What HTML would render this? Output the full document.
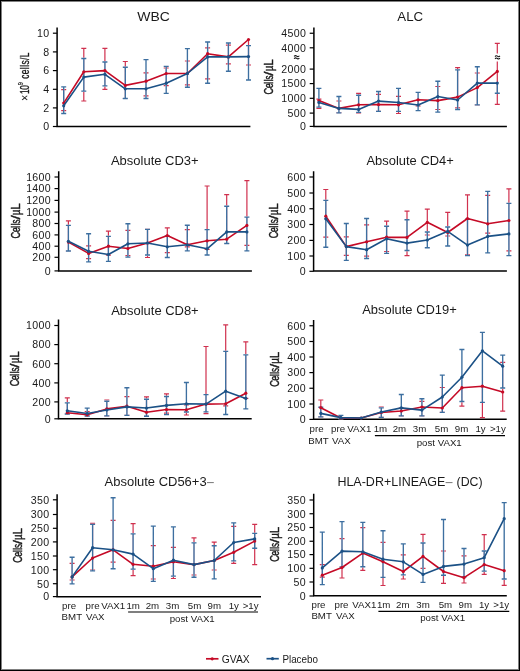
<!DOCTYPE html>
<html><head><meta charset="utf-8"><title>Immune reconstitution</title>
<style>
html,body{margin:0;padding:0;background:#fff;}
.fig{position:relative;width:520px;height:671px;overflow:hidden;background:#fff;}
svg{position:absolute;left:0;top:0;display:block;will-change:transform;}
text{font-family:"Liberation Sans", sans-serif;fill:#1a1a1a;}
</style></head>
<body><div class="fig">
<svg width="520" height="671" viewBox="0 0 520 671">
<path d="M57.1 27.5V126.5H250.4" fill="none" stroke="#000" stroke-width="1.5"/>
<path d="M52.9 33.2H57.1" stroke="#000" stroke-width="1.2"/>
<text x="49.5" y="37" font-size="10.6" text-anchor="end" letter-spacing="0.35">10</text>
<path d="M52.9 51.9H57.1" stroke="#000" stroke-width="1.2"/>
<text x="49.5" y="55.7" font-size="10.6" text-anchor="end" letter-spacing="0.35">8</text>
<path d="M52.9 70.6H57.1" stroke="#000" stroke-width="1.2"/>
<text x="49.5" y="74.4" font-size="10.6" text-anchor="end" letter-spacing="0.35">6</text>
<path d="M52.9 89.3H57.1" stroke="#000" stroke-width="1.2"/>
<text x="49.5" y="93.1" font-size="10.6" text-anchor="end" letter-spacing="0.35">4</text>
<path d="M52.9 107.9H57.1" stroke="#000" stroke-width="1.2"/>
<text x="49.5" y="111.7" font-size="10.6" text-anchor="end" letter-spacing="0.35">2</text>
<path d="M52.9 126.5H57.1" stroke="#000" stroke-width="1.2"/>
<text x="49.5" y="130.3" font-size="10.6" text-anchor="end" letter-spacing="0.35">0</text>
<text x="137.3" y="20.6" font-size="12.4" textLength="32.6" lengthAdjust="spacingAndGlyphs">WBC</text>
<path d="M63.7 89.6V110.6M61.2 89.6H66.2M61.2 110.6H66.2M83.8 48.4V101M81.3 48.4H86.3M81.3 101H86.3M104.9 48.4V89.4M102.4 48.4H107.4M102.4 89.4H107.4M125.3 61.5V98.5M122.8 61.5H127.8M122.8 98.5H127.8M146 72.8V95.9M143.5 72.8H148.5M143.5 95.9H148.5M166.2 68V85.6M163.7 68H168.7M163.7 85.6H168.7M187.4 61V84.8M184.9 61H189.9M184.9 84.8H189.9M207.6 47.8V78.9M205.1 47.8H210.1M205.1 78.9H210.1M228.4 45.2V63.8M225.9 45.2H230.9M225.9 63.8H230.9M248.5 39.2V65M246 65H251" fill="none" stroke="#d0304e" stroke-width="1.2"/>
<path d="M63.7 86.9V113.5M61.2 86.9H66.2M61.2 113.5H66.2M83.8 58.5V91.1M81.3 58.5H86.3M81.3 91.1H86.3M104.9 62V85.8M102.4 62H107.4M102.4 85.8H107.4M125.3 67.2V98.5M122.8 67.2H127.8M122.8 98.5H127.8M146 59.6V98.5M143.5 59.6H148.5M143.5 98.5H148.5M166.2 66.4V93.3M163.7 66.4H168.7M163.7 93.3H168.7M187.4 48.6V87.2M184.9 48.6H189.9M184.9 87.2H189.9M207.6 42V83.2M205.1 42H210.1M205.1 83.2H210.1M228.4 43V71.2M225.9 43H230.9M225.9 71.2H230.9M248.5 45.6V80M246 45.6H251M246 80H251" fill="none" stroke="#fff" stroke-width="1.35"/>
<path d="M63.7 86.9V113.5M61.2 86.9H66.2M61.2 113.5H66.2M83.8 58.5V91.1M81.3 58.5H86.3M81.3 91.1H86.3M104.9 62V85.8M102.4 62H107.4M102.4 85.8H107.4M125.3 67.2V98.5M122.8 67.2H127.8M122.8 98.5H127.8M146 59.6V98.5M143.5 59.6H148.5M143.5 98.5H148.5M166.2 66.4V93.3M163.7 66.4H168.7M163.7 93.3H168.7M187.4 48.6V87.2M184.9 48.6H189.9M184.9 87.2H189.9M207.6 42V83.2M205.1 42H210.1M205.1 83.2H210.1M228.4 43V71.2M225.9 43H230.9M225.9 71.2H230.9M248.5 45.6V80M246 45.6H251M246 80H251" fill="none" stroke="#3d6fa0" stroke-width="1.35"/>
<polyline points="63.7,103.1 83.8,71.8 104.9,70.6 125.3,85.4 146,81.2 166.2,73.5 187.4,73.5 207.6,53.7 228.4,56.9 248.5,39.5" fill="none" stroke="#c50a26" stroke-width="1.6" stroke-linejoin="round"/>
<circle cx="63.7" cy="103.1" r="1.6" fill="#c50a26"/>
<circle cx="83.8" cy="71.8" r="1.6" fill="#c50a26"/>
<circle cx="104.9" cy="70.6" r="1.6" fill="#c50a26"/>
<circle cx="125.3" cy="85.4" r="1.6" fill="#c50a26"/>
<circle cx="146" cy="81.2" r="1.6" fill="#c50a26"/>
<circle cx="166.2" cy="73.5" r="1.6" fill="#c50a26"/>
<circle cx="187.4" cy="73.5" r="1.6" fill="#c50a26"/>
<circle cx="207.6" cy="53.7" r="1.6" fill="#c50a26"/>
<circle cx="228.4" cy="56.9" r="1.6" fill="#c50a26"/>
<circle cx="248.5" cy="39.5" r="1.6" fill="#c50a26"/>
<polyline points="63.7,105.8 83.8,77.1 104.9,74.3 125.3,88.8 146,88.8 166.2,83.2 187.4,73.5 207.6,56.9 228.4,56.9 248.5,56.6" fill="none" stroke="#1b5186" stroke-width="1.6" stroke-linejoin="round"/>
<circle cx="63.7" cy="105.8" r="1.6" fill="#1b5186"/>
<circle cx="83.8" cy="77.1" r="1.6" fill="#1b5186"/>
<circle cx="104.9" cy="74.3" r="1.6" fill="#1b5186"/>
<circle cx="125.3" cy="88.8" r="1.6" fill="#1b5186"/>
<circle cx="146" cy="88.8" r="1.6" fill="#1b5186"/>
<circle cx="166.2" cy="83.2" r="1.6" fill="#1b5186"/>
<circle cx="187.4" cy="73.5" r="1.6" fill="#1b5186"/>
<circle cx="207.6" cy="56.9" r="1.6" fill="#1b5186"/>
<circle cx="228.4" cy="56.9" r="1.6" fill="#1b5186"/>
<circle cx="248.5" cy="56.6" r="1.6" fill="#1b5186"/>
<g transform="translate(29.3,101) rotate(-90)" stroke="#1a1a1a" stroke-width="0.35"><text x="0" y="0" font-size="12.3" textLength="6.3" lengthAdjust="spacingAndGlyphs" stroke-width="0">×</text><g transform="translate(6.9,0) scale(0.68,1)"><text font-size="12.3" textLength="13.4" lengthAdjust="spacing">10</text></g><g transform="translate(15.7,-5.9) scale(0.75,1)"><text font-size="7.6" stroke-width="0.2">9</text></g><g transform="translate(22.2,0) scale(0.68,1)"><text font-size="12.3" textLength="38.6" lengthAdjust="spacing">cells/L</text></g></g>
<path d="M313.9 27.5V126.4H506.9" fill="none" stroke="#000" stroke-width="1.5"/>
<path d="M309.7 33.25H313.9" stroke="#000" stroke-width="1.2"/>
<text x="306.3" y="37.05" font-size="10.6" text-anchor="end" letter-spacing="0.35">4500</text>
<path d="M309.7 47.8H313.9" stroke="#000" stroke-width="1.2"/>
<text x="306.3" y="51.6" font-size="10.6" text-anchor="end" letter-spacing="0.35">4000</text>
<path d="M309.7 69.1H313.9" stroke="#000" stroke-width="1.2"/>
<text x="306.3" y="72.9" font-size="10.6" text-anchor="end" letter-spacing="0.35">2000</text>
<path d="M309.7 83.6H313.9" stroke="#000" stroke-width="1.2"/>
<text x="306.3" y="87.4" font-size="10.6" text-anchor="end" letter-spacing="0.35">1500</text>
<path d="M309.7 98.3H313.9" stroke="#000" stroke-width="1.2"/>
<text x="306.3" y="102.1" font-size="10.6" text-anchor="end" letter-spacing="0.35">1000</text>
<path d="M309.7 113.1H313.9" stroke="#000" stroke-width="1.2"/>
<text x="306.3" y="116.9" font-size="10.6" text-anchor="end" letter-spacing="0.35">500</text>
<path d="M309.7 126.4H313.9" stroke="#000" stroke-width="1.2"/>
<text x="306.3" y="130.2" font-size="10.6" text-anchor="end" letter-spacing="0.35">0</text>
<text x="397.3" y="20.7" font-size="12.4" textLength="25.8" lengthAdjust="spacingAndGlyphs">ALC</text>
<path d="M318.9 99.2V108.4M316.4 99.2H321.4M316.4 108.4H321.4M338.9 101V112.7M336.4 101H341.4M336.4 112.7H341.4M358.6 93.3V112.9M356.1 93.3H361.1M356.1 112.9H361.1M378.5 94.4V111.4M376 94.4H381M376 111.4H381M398.5 96.4V113.5M396 96.4H401M396 113.5H401M418.1 99.8V106M415.6 106H420.6M437.8 86.5V109.5M435.3 86.5H440.3M435.3 109.5H440.3M457.6 67.7V107.8M455.1 67.7H460.1M455.1 107.8H460.1M477.3 73V104.9M474.8 73H479.8M474.8 104.9H479.8M497.3 43.4V104.4M494.8 43.4H499.8M494.8 104.4H499.8" fill="none" stroke="#d0304e" stroke-width="1.2"/>
<path d="M318.9 88.3V107.1M316.4 88.3H321.4M316.4 107.1H321.4M338.9 96.5V112.8M336.4 96.5H341.4M336.4 112.8H341.4M358.6 95.2V112.3M356.1 95.2H361.1M356.1 112.3H361.1M378.5 91.5V111.4M376 91.5H381M376 111.4H381M398.5 88.3V111.4M396 88.3H401M396 111.4H401M418.1 92.3V110.6M415.6 92.3H420.6M415.6 110.6H420.6M437.8 81.2V112.1M435.3 81.2H440.3M435.3 112.1H440.3M457.6 69.8V109.5M455.1 69.8H460.1M455.1 109.5H460.1M477.3 66.7V104.9M474.8 66.7H479.8M474.8 104.9H479.8M497.3 83.1V93.2M494.8 93.2H499.8" fill="none" stroke="#fff" stroke-width="1.35"/>
<path d="M318.9 88.3V107.1M316.4 88.3H321.4M316.4 107.1H321.4M338.9 96.5V112.8M336.4 96.5H341.4M336.4 112.8H341.4M358.6 95.2V112.3M356.1 95.2H361.1M356.1 112.3H361.1M378.5 91.5V111.4M376 91.5H381M376 111.4H381M398.5 88.3V111.4M396 88.3H401M396 111.4H401M418.1 92.3V110.6M415.6 92.3H420.6M415.6 110.6H420.6M437.8 81.2V112.1M435.3 81.2H440.3M435.3 112.1H440.3M457.6 69.8V109.5M455.1 69.8H460.1M455.1 109.5H460.1M477.3 66.7V104.9M474.8 66.7H479.8M474.8 104.9H479.8M497.3 83.1V93.2M494.8 93.2H499.8" fill="none" stroke="#3d6fa0" stroke-width="1.35"/>
<polyline points="318.9,100.6 338.9,108.4 358.6,104.8 378.5,104.6 398.5,104.8 418.1,99.8 437.8,100.6 457.6,97.1 477.3,87.6 497.3,71.4" fill="none" stroke="#c50a26" stroke-width="1.6" stroke-linejoin="round"/>
<circle cx="318.9" cy="100.6" r="1.6" fill="#c50a26"/>
<circle cx="338.9" cy="108.4" r="1.6" fill="#c50a26"/>
<circle cx="358.6" cy="104.8" r="1.6" fill="#c50a26"/>
<circle cx="378.5" cy="104.6" r="1.6" fill="#c50a26"/>
<circle cx="398.5" cy="104.8" r="1.6" fill="#c50a26"/>
<circle cx="418.1" cy="99.8" r="1.6" fill="#c50a26"/>
<circle cx="437.8" cy="100.6" r="1.6" fill="#c50a26"/>
<circle cx="457.6" cy="97.1" r="1.6" fill="#c50a26"/>
<circle cx="477.3" cy="87.6" r="1.6" fill="#c50a26"/>
<circle cx="497.3" cy="71.4" r="1.6" fill="#c50a26"/>
<polyline points="318.9,102.4 338.9,108.4 358.6,109.4 378.5,101.1 398.5,102.5 418.1,105 437.8,96.5 457.6,100 477.3,83.1 497.3,83.1" fill="none" stroke="#1b5186" stroke-width="1.6" stroke-linejoin="round"/>
<circle cx="318.9" cy="102.4" r="1.6" fill="#1b5186"/>
<circle cx="338.9" cy="108.4" r="1.6" fill="#1b5186"/>
<circle cx="358.6" cy="109.4" r="1.6" fill="#1b5186"/>
<circle cx="378.5" cy="101.1" r="1.6" fill="#1b5186"/>
<circle cx="398.5" cy="102.5" r="1.6" fill="#1b5186"/>
<circle cx="418.1" cy="105" r="1.6" fill="#1b5186"/>
<circle cx="437.8" cy="96.5" r="1.6" fill="#1b5186"/>
<circle cx="457.6" cy="100" r="1.6" fill="#1b5186"/>
<circle cx="477.3" cy="83.1" r="1.6" fill="#1b5186"/>
<circle cx="497.3" cy="83.1" r="1.6" fill="#1b5186"/>
<path d="M294.05 56.45Q295.38 55 296.7 56.1T299.35 55.75M294.05 58.75Q295.38 57.3 296.7 58.4T299.35 58.05" fill="none" stroke="#111" stroke-width="1.05"/>
<rect x="494.1" y="53.5" width="6.4" height="8" fill="#fff"/>
<path d="M495.05 56.55Q496.28 55.1 497.5 56.2T499.95 55.85M495.05 58.85Q496.28 57.4 497.5 58.5T499.95 58.15" fill="none" stroke="#111" stroke-width="1.05"/>
<g transform="translate(272.7,93.9) rotate(-90)" stroke="#1a1a1a" stroke-width="0.45" font-size="13.4"><text transform="translate(2.85,0) scale(0.69,1)" text-anchor="middle">C</text><text transform="translate(8.1,0) scale(0.62,1)" text-anchor="middle">e</text><text transform="translate(11.1,0) scale(0.75,1)" text-anchor="middle">l</text><text transform="translate(13.4,0) scale(0.75,1)" text-anchor="middle">l</text><text transform="translate(16.4,0) scale(0.6,1)" text-anchor="middle">s</text><text transform="translate(20.4,0) scale(1.15,1)" text-anchor="middle">/</text><text transform="translate(25.4,0) scale(0.72,1)" text-anchor="middle">µ</text><text transform="translate(31.3,0) scale(0.85,1)" text-anchor="middle">L</text></g>
<path d="M58.7 171.25V270.9H251.9" fill="none" stroke="#000" stroke-width="1.5"/>
<path d="M54.5 177H58.7" stroke="#000" stroke-width="1.2"/>
<text x="51.1" y="180.8" font-size="10.6" text-anchor="end" letter-spacing="0.35">1600</text>
<path d="M54.5 188.6H58.7" stroke="#000" stroke-width="1.2"/>
<text x="51.1" y="192.4" font-size="10.6" text-anchor="end" letter-spacing="0.35">1400</text>
<path d="M54.5 200.4H58.7" stroke="#000" stroke-width="1.2"/>
<text x="51.1" y="204.2" font-size="10.6" text-anchor="end" letter-spacing="0.35">1200</text>
<path d="M54.5 212.1H58.7" stroke="#000" stroke-width="1.2"/>
<text x="51.1" y="215.9" font-size="10.6" text-anchor="end" letter-spacing="0.35">1000</text>
<path d="M54.5 223.5H58.7" stroke="#000" stroke-width="1.2"/>
<text x="51.1" y="227.3" font-size="10.6" text-anchor="end" letter-spacing="0.35">800</text>
<path d="M54.5 234.9H58.7" stroke="#000" stroke-width="1.2"/>
<text x="51.1" y="238.7" font-size="10.6" text-anchor="end" letter-spacing="0.35">600</text>
<path d="M54.5 246.2H58.7" stroke="#000" stroke-width="1.2"/>
<text x="51.1" y="250" font-size="10.6" text-anchor="end" letter-spacing="0.35">400</text>
<path d="M54.5 257.3H58.7" stroke="#000" stroke-width="1.2"/>
<text x="51.1" y="261.1" font-size="10.6" text-anchor="end" letter-spacing="0.35">200</text>
<path d="M54.5 270.9H58.7" stroke="#000" stroke-width="1.2"/>
<text x="51.1" y="274.7" font-size="10.6" text-anchor="end" letter-spacing="0.35">0</text>
<text x="110.9" y="164.9" font-size="12.4" textLength="87.8" lengthAdjust="spacingAndGlyphs">Absolute CD3+</text>
<path d="M68.4 220.8V251M65.9 220.8H70.9M65.9 251H70.9M88.6 245.9V258.6M86.1 245.9H91.1M86.1 258.6H91.1M108.4 231.2V255.2M105.9 231.2H110.9M105.9 255.2H110.9M127.9 230.3V255.6M125.4 230.3H130.4M125.4 255.6H130.4M147.5 229.4V257.5M145 229.4H150M145 257.5H150M167.3 227.9V252.6M164.8 227.9H169.8M164.8 252.6H169.8M187.3 229.6V246.8M184.8 229.6H189.8M184.8 246.8H189.8M207.1 186V249.4M204.6 186H209.6M204.6 249.4H209.6M226.7 194.6V243.5M224.2 194.6H229.2M224.2 243.5H229.2M246.9 180.6V245.4M244.4 180.6H249.4M244.4 245.4H249.4" fill="none" stroke="#d0304e" stroke-width="1.2"/>
<path d="M68.4 225.4V251M65.9 225.4H70.9M65.9 251H70.9M88.6 233.7V261.8M86.1 233.7H91.1M86.1 261.8H91.1M108.4 236.3V261.4M105.9 236.3H110.9M105.9 261.4H110.9M127.9 223.7V257.1M125.4 223.7H130.4M125.4 257.1H130.4M147.5 229.4V255M145 229.4H150M145 255H150M167.3 236V257.5M164.8 236H169.8M164.8 257.5H169.8M187.3 225.2V250.8M184.8 225.2H189.8M184.8 250.8H189.8M207.1 229.6V255M204.6 229.6H209.6M204.6 255H209.6M226.7 206.2V243.5M224.2 206.2H229.2M224.2 243.5H229.2M246.9 217.1V250.8M244.4 217.1H249.4M244.4 250.8H249.4" fill="none" stroke="#fff" stroke-width="1.35"/>
<path d="M68.4 225.4V251M65.9 225.4H70.9M65.9 251H70.9M88.6 233.7V261.8M86.1 233.7H91.1M86.1 261.8H91.1M108.4 236.3V261.4M105.9 236.3H110.9M105.9 261.4H110.9M127.9 223.7V257.1M125.4 223.7H130.4M125.4 257.1H130.4M147.5 229.4V255M145 229.4H150M145 255H150M167.3 236V257.5M164.8 236H169.8M164.8 257.5H169.8M187.3 225.2V250.8M184.8 225.2H189.8M184.8 250.8H189.8M207.1 229.6V255M204.6 229.6H209.6M204.6 255H209.6M226.7 206.2V243.5M224.2 206.2H229.2M224.2 243.5H229.2M246.9 217.1V250.8M244.4 217.1H249.4M244.4 250.8H249.4" fill="none" stroke="#3d6fa0" stroke-width="1.35"/>
<polyline points="68.4,242.1 88.6,253.4 108.4,246.2 127.9,248.5 147.5,243 167.3,235.6 187.3,244.8 207.1,240.8 226.7,239.2 246.9,225.4" fill="none" stroke="#c50a26" stroke-width="1.6" stroke-linejoin="round"/>
<circle cx="68.4" cy="242.1" r="1.6" fill="#c50a26"/>
<circle cx="88.6" cy="253.4" r="1.6" fill="#c50a26"/>
<circle cx="108.4" cy="246.2" r="1.6" fill="#c50a26"/>
<circle cx="127.9" cy="248.5" r="1.6" fill="#c50a26"/>
<circle cx="147.5" cy="243" r="1.6" fill="#c50a26"/>
<circle cx="167.3" cy="235.6" r="1.6" fill="#c50a26"/>
<circle cx="187.3" cy="244.8" r="1.6" fill="#c50a26"/>
<circle cx="207.1" cy="240.8" r="1.6" fill="#c50a26"/>
<circle cx="226.7" cy="239.2" r="1.6" fill="#c50a26"/>
<circle cx="246.9" cy="225.4" r="1.6" fill="#c50a26"/>
<polyline points="68.4,241.3 88.6,251.3 108.4,254.5 127.9,243.8 147.5,243 167.3,246.8 187.3,244.8 207.1,248.8 226.7,231.9 246.9,231.9" fill="none" stroke="#1b5186" stroke-width="1.6" stroke-linejoin="round"/>
<circle cx="68.4" cy="241.3" r="1.6" fill="#1b5186"/>
<circle cx="88.6" cy="251.3" r="1.6" fill="#1b5186"/>
<circle cx="108.4" cy="254.5" r="1.6" fill="#1b5186"/>
<circle cx="127.9" cy="243.8" r="1.6" fill="#1b5186"/>
<circle cx="147.5" cy="243" r="1.6" fill="#1b5186"/>
<circle cx="167.3" cy="246.8" r="1.6" fill="#1b5186"/>
<circle cx="187.3" cy="244.8" r="1.6" fill="#1b5186"/>
<circle cx="207.1" cy="248.8" r="1.6" fill="#1b5186"/>
<circle cx="226.7" cy="231.9" r="1.6" fill="#1b5186"/>
<circle cx="246.9" cy="231.9" r="1.6" fill="#1b5186"/>
<g transform="translate(19.5,237.9) rotate(-90)" stroke="#1a1a1a" stroke-width="0.45" font-size="13.4"><text transform="translate(2.86,0) scale(0.69,1)" text-anchor="middle">C</text><text transform="translate(8.12,0) scale(0.62,1)" text-anchor="middle">e</text><text transform="translate(11.13,0) scale(0.75,1)" text-anchor="middle">l</text><text transform="translate(13.44,0) scale(0.75,1)" text-anchor="middle">l</text><text transform="translate(16.45,0) scale(0.6,1)" text-anchor="middle">s</text><text transform="translate(20.46,0) scale(1.15,1)" text-anchor="middle">/</text><text transform="translate(25.47,0) scale(0.72,1)" text-anchor="middle">µ</text><text transform="translate(31.39,0) scale(0.85,1)" text-anchor="middle">L</text></g>
<path d="M313.6 171.25V271.1H506.9" fill="none" stroke="#000" stroke-width="1.5"/>
<path d="M309.4 177H313.6" stroke="#000" stroke-width="1.2"/>
<text x="306" y="180.8" font-size="10.6" text-anchor="end" letter-spacing="0.35">600</text>
<path d="M309.4 193H313.6" stroke="#000" stroke-width="1.2"/>
<text x="306" y="196.8" font-size="10.6" text-anchor="end" letter-spacing="0.35">500</text>
<path d="M309.4 208.75H313.6" stroke="#000" stroke-width="1.2"/>
<text x="306" y="212.55" font-size="10.6" text-anchor="end" letter-spacing="0.35">400</text>
<path d="M309.4 224.5H313.6" stroke="#000" stroke-width="1.2"/>
<text x="306" y="228.3" font-size="10.6" text-anchor="end" letter-spacing="0.35">300</text>
<path d="M309.4 240.4H313.6" stroke="#000" stroke-width="1.2"/>
<text x="306" y="244.2" font-size="10.6" text-anchor="end" letter-spacing="0.35">200</text>
<path d="M309.4 256H313.6" stroke="#000" stroke-width="1.2"/>
<text x="306" y="259.8" font-size="10.6" text-anchor="end" letter-spacing="0.35">100</text>
<path d="M309.4 271.3H313.6" stroke="#000" stroke-width="1.2"/>
<text x="306" y="275.1" font-size="10.6" text-anchor="end" letter-spacing="0.35">0</text>
<text x="366.5" y="165.3" font-size="12.4" textLength="87.3" lengthAdjust="spacingAndGlyphs">Absolute CD4+</text>
<path d="M325.8 189.5V237.2M323.3 189.5H328.3M323.3 237.2H328.3M346.3 236.9V255.4M343.8 236.9H348.8M343.8 255.4H348.8M366.6 224.9V256.2M364.1 224.9H369.1M364.1 256.2H369.1M386.6 221.2V251.5M384.1 221.2H389.1M384.1 251.5H389.1M407 211.2V255.7M404.5 211.2H409.5M404.5 255.7H409.5M427.3 209.2V235M424.8 209.2H429.8M424.8 235H429.8M447.7 212.3V236M445.2 212.3H450.2M445.2 236H450.2M467.5 194.9V254.9M465 194.9H470M465 254.9H470M487.7 195.4V233.1M485.2 195.4H490.2M485.2 233.1H490.2M508.9 188.9V250.8M506.4 188.9H511.4M506.4 250.8H511.4" fill="none" stroke="#d0304e" stroke-width="1.2"/>
<path d="M325.8 200.3V247.2M323.3 200.3H328.3M323.3 247.2H328.3M346.3 223.5V260.3M343.8 223.5H348.8M343.8 260.3H348.8M366.6 218.5V258.5M364.1 218.5H369.1M364.1 258.5H369.1M386.6 226.2V253.4M384.1 226.2H389.1M384.1 253.4H389.1M407 219.7V250.5M404.5 219.7H409.5M404.5 250.5H409.5M427.3 232V247.7M424.8 232H429.8M424.8 247.7H429.8M447.7 227V246M445.2 227H450.2M445.2 246H450.2M467.5 219.2V255.6M465 219.2H470M465 255.6H470M487.7 191.3V252.8M485.2 191.3H490.2M485.2 252.8H490.2M508.9 203.3V255.6M506.4 203.3H511.4M506.4 255.6H511.4" fill="none" stroke="#fff" stroke-width="1.35"/>
<path d="M325.8 200.3V247.2M323.3 200.3H328.3M323.3 247.2H328.3M346.3 223.5V260.3M343.8 223.5H348.8M343.8 260.3H348.8M366.6 218.5V258.5M364.1 218.5H369.1M364.1 258.5H369.1M386.6 226.2V253.4M384.1 226.2H389.1M384.1 253.4H389.1M407 219.7V250.5M404.5 219.7H409.5M404.5 250.5H409.5M427.3 232V247.7M424.8 232H429.8M424.8 247.7H429.8M447.7 227V246M445.2 227H450.2M445.2 246H450.2M467.5 219.2V255.6M465 219.2H470M465 255.6H470M487.7 191.3V252.8M485.2 191.3H490.2M485.2 252.8H490.2M508.9 203.3V255.6M506.4 203.3H511.4M506.4 255.6H511.4" fill="none" stroke="#3d6fa0" stroke-width="1.35"/>
<polyline points="325.8,216.2 346.3,246.6 366.6,241.8 386.6,237.2 407,237.4 427.3,222.3 447.7,232.5 467.5,218.5 487.7,223.8 508.9,220.5" fill="none" stroke="#c50a26" stroke-width="1.6" stroke-linejoin="round"/>
<circle cx="325.8" cy="216.2" r="1.6" fill="#c50a26"/>
<circle cx="346.3" cy="246.6" r="1.6" fill="#c50a26"/>
<circle cx="366.6" cy="241.8" r="1.6" fill="#c50a26"/>
<circle cx="386.6" cy="237.2" r="1.6" fill="#c50a26"/>
<circle cx="407" cy="237.4" r="1.6" fill="#c50a26"/>
<circle cx="427.3" cy="222.3" r="1.6" fill="#c50a26"/>
<circle cx="447.7" cy="232.5" r="1.6" fill="#c50a26"/>
<circle cx="467.5" cy="218.5" r="1.6" fill="#c50a26"/>
<circle cx="487.7" cy="223.8" r="1.6" fill="#c50a26"/>
<circle cx="508.9" cy="220.5" r="1.6" fill="#c50a26"/>
<polyline points="325.8,218.8 346.3,246.6 366.6,249.7 386.6,238.8 407,243.1 427.3,240 447.7,231.3 467.5,245.1 487.7,236.4 508.9,233.9" fill="none" stroke="#1b5186" stroke-width="1.6" stroke-linejoin="round"/>
<circle cx="325.8" cy="218.8" r="1.6" fill="#1b5186"/>
<circle cx="346.3" cy="246.6" r="1.6" fill="#1b5186"/>
<circle cx="366.6" cy="249.7" r="1.6" fill="#1b5186"/>
<circle cx="386.6" cy="238.8" r="1.6" fill="#1b5186"/>
<circle cx="407" cy="243.1" r="1.6" fill="#1b5186"/>
<circle cx="427.3" cy="240" r="1.6" fill="#1b5186"/>
<circle cx="447.7" cy="231.3" r="1.6" fill="#1b5186"/>
<circle cx="467.5" cy="245.1" r="1.6" fill="#1b5186"/>
<circle cx="487.7" cy="236.4" r="1.6" fill="#1b5186"/>
<circle cx="508.9" cy="233.9" r="1.6" fill="#1b5186"/>
<g transform="translate(278.15,237.7) rotate(-90)" stroke="#1a1a1a" stroke-width="0.45" font-size="13.4"><text transform="translate(2.84,0) scale(0.69,1)" text-anchor="middle">C</text><text transform="translate(8.08,0) scale(0.62,1)" text-anchor="middle">e</text><text transform="translate(11.07,0) scale(0.75,1)" text-anchor="middle">l</text><text transform="translate(13.36,0) scale(0.75,1)" text-anchor="middle">l</text><text transform="translate(16.35,0) scale(0.6,1)" text-anchor="middle">s</text><text transform="translate(20.34,0) scale(1.15,1)" text-anchor="middle">/</text><text transform="translate(25.33,0) scale(0.72,1)" text-anchor="middle">µ</text><text transform="translate(31.21,0) scale(0.85,1)" text-anchor="middle">L</text></g>
<path d="M58.5 319.5V418.8H251.7" fill="none" stroke="#000" stroke-width="1.5"/>
<path d="M54.3 325.5H58.5" stroke="#000" stroke-width="1.2"/>
<text x="50.9" y="329.3" font-size="10.6" text-anchor="end" letter-spacing="0.35">1000</text>
<path d="M54.3 344.6H58.5" stroke="#000" stroke-width="1.2"/>
<text x="50.9" y="348.4" font-size="10.6" text-anchor="end" letter-spacing="0.35">800</text>
<path d="M54.3 363.7H58.5" stroke="#000" stroke-width="1.2"/>
<text x="50.9" y="367.5" font-size="10.6" text-anchor="end" letter-spacing="0.35">600</text>
<path d="M54.3 382.9H58.5" stroke="#000" stroke-width="1.2"/>
<text x="50.9" y="386.7" font-size="10.6" text-anchor="end" letter-spacing="0.35">400</text>
<path d="M54.3 401.9H58.5" stroke="#000" stroke-width="1.2"/>
<text x="50.9" y="405.7" font-size="10.6" text-anchor="end" letter-spacing="0.35">200</text>
<path d="M54.3 418.8H58.5" stroke="#000" stroke-width="1.2"/>
<text x="50.9" y="422.6" font-size="10.6" text-anchor="end" letter-spacing="0.35">0</text>
<text x="111.2" y="314.8" font-size="12.4" textLength="87.5" lengthAdjust="spacingAndGlyphs">Absolute CD8+</text>
<path d="M67.3 397.8V414M64.8 397.8H69.8M64.8 414H69.8M87.2 411.7V416M84.7 411.7H89.7M84.7 416H89.7M106.8 400V415.8M104.3 400H109.3M104.3 415.8H109.3M126.9 396.6V415.4M124.4 396.6H129.4M124.4 415.4H129.4M146.5 396.9V416.2M144 396.9H149M144 416.2H149M166.5 393.8V413.1M164 393.8H169M164 413.1H169M186.4 405V415M183.9 405H188.9M183.9 415H188.9M206 346.5V413.6M203.5 346.5H208.5M203.5 413.6H208.5M225.7 324.9V405.9M223.2 324.9H228.2M223.2 405.9H228.2M245.8 341.8V398.4M243.3 341.8H248.3M243.3 398.4H248.3" fill="none" stroke="#d0304e" stroke-width="1.2"/>
<path d="M67.3 402.9V414M64.8 402.9H69.8M64.8 414H69.8M87.2 408.1V416M84.7 408.1H89.7M84.7 416H89.7M106.8 401.2V415.8M104.3 401.2H109.3M104.3 415.8H109.3M126.9 387.7V415.4M124.4 387.7H129.4M124.4 415.4H129.4M146.5 399.2V416.2M144 399.2H149M144 416.2H149M166.5 396.5V414.6M164 396.5H169M164 414.6H169M186.4 382.5V412M183.9 382.5H188.9M183.9 412H188.9M206 394.6V411.9M203.5 394.6H208.5M203.5 411.9H208.5M225.7 351.3V414.5M223.2 351.3H228.2M223.2 414.5H228.2M245.8 354.8V408.8M243.3 354.8H248.3M243.3 408.8H248.3" fill="none" stroke="#fff" stroke-width="1.35"/>
<path d="M67.3 402.9V414M64.8 402.9H69.8M64.8 414H69.8M87.2 408.1V416M84.7 408.1H89.7M84.7 416H89.7M106.8 401.2V415.8M104.3 401.2H109.3M104.3 415.8H109.3M126.9 387.7V415.4M124.4 387.7H129.4M124.4 415.4H129.4M146.5 399.2V416.2M144 399.2H149M144 416.2H149M166.5 396.5V414.6M164 396.5H169M164 414.6H169M186.4 382.5V412M183.9 382.5H188.9M183.9 412H188.9M206 394.6V411.9M203.5 394.6H208.5M203.5 411.9H208.5M225.7 351.3V414.5M223.2 351.3H228.2M223.2 414.5H228.2M245.8 354.8V408.8M243.3 354.8H248.3M243.3 408.8H248.3" fill="none" stroke="#3d6fa0" stroke-width="1.35"/>
<polyline points="67.3,412.7 87.2,414.8 106.8,408.9 126.9,406.2 146.5,412.3 166.5,409.5 186.4,409.8 206,404.1 225.7,403.8 245.8,393.2" fill="none" stroke="#c50a26" stroke-width="1.6" stroke-linejoin="round"/>
<circle cx="67.3" cy="412.7" r="1.6" fill="#c50a26"/>
<circle cx="87.2" cy="414.8" r="1.6" fill="#c50a26"/>
<circle cx="106.8" cy="408.9" r="1.6" fill="#c50a26"/>
<circle cx="126.9" cy="406.2" r="1.6" fill="#c50a26"/>
<circle cx="146.5" cy="412.3" r="1.6" fill="#c50a26"/>
<circle cx="166.5" cy="409.5" r="1.6" fill="#c50a26"/>
<circle cx="186.4" cy="409.8" r="1.6" fill="#c50a26"/>
<circle cx="206" cy="404.1" r="1.6" fill="#c50a26"/>
<circle cx="225.7" cy="403.8" r="1.6" fill="#c50a26"/>
<circle cx="245.8" cy="393.2" r="1.6" fill="#c50a26"/>
<polyline points="67.3,410.8 87.2,413.5 106.8,410 126.9,406.9 146.5,408 166.5,405.4 186.4,403.8 206,404.1 225.7,391.2 245.8,398.4" fill="none" stroke="#1b5186" stroke-width="1.6" stroke-linejoin="round"/>
<circle cx="67.3" cy="410.8" r="1.6" fill="#1b5186"/>
<circle cx="87.2" cy="413.5" r="1.6" fill="#1b5186"/>
<circle cx="106.8" cy="410" r="1.6" fill="#1b5186"/>
<circle cx="126.9" cy="406.9" r="1.6" fill="#1b5186"/>
<circle cx="146.5" cy="408" r="1.6" fill="#1b5186"/>
<circle cx="166.5" cy="405.4" r="1.6" fill="#1b5186"/>
<circle cx="186.4" cy="403.8" r="1.6" fill="#1b5186"/>
<circle cx="206" cy="404.1" r="1.6" fill="#1b5186"/>
<circle cx="225.7" cy="391.2" r="1.6" fill="#1b5186"/>
<circle cx="245.8" cy="398.4" r="1.6" fill="#1b5186"/>
<g transform="translate(19.1,385.8) rotate(-90)" stroke="#1a1a1a" stroke-width="0.45" font-size="13.4"><text transform="translate(2.83,0) scale(0.69,1)" text-anchor="middle">C</text><text transform="translate(8.05,0) scale(0.62,1)" text-anchor="middle">e</text><text transform="translate(11.03,0) scale(0.75,1)" text-anchor="middle">l</text><text transform="translate(13.32,0) scale(0.75,1)" text-anchor="middle">l</text><text transform="translate(16.3,0) scale(0.6,1)" text-anchor="middle">s</text><text transform="translate(20.28,0) scale(1.15,1)" text-anchor="middle">/</text><text transform="translate(25.25,0) scale(0.72,1)" text-anchor="middle">µ</text><text transform="translate(31.12,0) scale(0.85,1)" text-anchor="middle">L</text></g>
<path d="M313.6 320V419.2H506.7" fill="none" stroke="#000" stroke-width="1.5"/>
<path d="M309.4 325.75H313.6" stroke="#000" stroke-width="1.2"/>
<text x="306" y="329.55" font-size="10.6" text-anchor="end" letter-spacing="0.35">600</text>
<path d="M309.4 341.5H313.6" stroke="#000" stroke-width="1.2"/>
<text x="306" y="345.3" font-size="10.6" text-anchor="end" letter-spacing="0.35">500</text>
<path d="M309.4 357H313.6" stroke="#000" stroke-width="1.2"/>
<text x="306" y="360.8" font-size="10.6" text-anchor="end" letter-spacing="0.35">400</text>
<path d="M309.4 372.6H313.6" stroke="#000" stroke-width="1.2"/>
<text x="306" y="376.4" font-size="10.6" text-anchor="end" letter-spacing="0.35">300</text>
<path d="M309.4 388.25H313.6" stroke="#000" stroke-width="1.2"/>
<text x="306" y="392.05" font-size="10.6" text-anchor="end" letter-spacing="0.35">200</text>
<path d="M309.4 404H313.6" stroke="#000" stroke-width="1.2"/>
<text x="306" y="407.8" font-size="10.6" text-anchor="end" letter-spacing="0.35">100</text>
<path d="M309.4 419.4H313.6" stroke="#000" stroke-width="1.2"/>
<text x="306" y="423.2" font-size="10.6" text-anchor="end" letter-spacing="0.35">0</text>
<text x="362.2" y="314.3" font-size="12.4" textLength="94.6" lengthAdjust="spacingAndGlyphs">Absolute CD19+</text>
<path d="M320.8 400V416.9M318.3 400H323.3M318.3 416.9H323.3M381.3 407V417.4M378.8 407H383.8M378.8 417.4H383.8M401.3 408V415.8M398.8 408H403.8M398.8 415.8H403.8M421.9 401.4V415.8M419.4 401.4H424.4M419.4 415.8H424.4M442.3 387.5V412.3M439.8 387.5H444.8M439.8 412.3H444.8M461.9 387.7V406.2M459.4 406.2H464.4M482.4 386.2V417.7M479.9 417.7H484.9M502.7 362.3V411.1M500.2 362.3H505.2M500.2 411.1H505.2" fill="none" stroke="#d0304e" stroke-width="1.2"/>
<path d="M320.8 407.2V416.9M318.3 407.2H323.3M318.3 416.9H323.3M340.9 415.4V418.5M338.4 415.4H343.4M338.4 418.5H343.4M381.3 407.8V417.4M378.8 407.8H383.8M378.8 417.4H383.8M401.3 394.5V415.8M398.8 394.5H403.8M398.8 415.8H403.8M421.9 398.7V415.8M419.4 398.7H424.4M419.4 415.8H424.4M442.3 375.1V412.3M439.8 375.1H444.8M439.8 412.3H444.8M461.9 349.5V401.5M459.4 349.5H464.4M459.4 401.5H464.4M482.4 332.3V402.3M479.9 332.3H484.9M479.9 402.3H484.9M502.7 355.1V388M500.2 355.1H505.2M500.2 388H505.2" fill="none" stroke="#fff" stroke-width="1.35"/>
<path d="M320.8 407.2V416.9M318.3 407.2H323.3M318.3 416.9H323.3M340.9 415.4V418.5M338.4 415.4H343.4M338.4 418.5H343.4M381.3 407.8V417.4M378.8 407.8H383.8M378.8 417.4H383.8M401.3 394.5V415.8M398.8 394.5H403.8M398.8 415.8H403.8M421.9 398.7V415.8M419.4 398.7H424.4M419.4 415.8H424.4M442.3 375.1V412.3M439.8 375.1H444.8M439.8 412.3H444.8M461.9 349.5V401.5M459.4 349.5H464.4M459.4 401.5H464.4M482.4 332.3V402.3M479.9 332.3H484.9M479.9 402.3H484.9M502.7 355.1V388M500.2 355.1H505.2M500.2 388H505.2" fill="none" stroke="#3d6fa0" stroke-width="1.35"/>
<polyline points="320.8,407.7 340.9,418 361.2,418 381.3,412.5 401.3,411 421.9,407 442.3,408 461.9,387.7 482.4,386.2 502.7,392" fill="none" stroke="#c50a26" stroke-width="1.6" stroke-linejoin="round"/>
<circle cx="320.8" cy="407.7" r="1.6" fill="#c50a26"/>
<circle cx="340.9" cy="418" r="1.6" fill="#c50a26"/>
<circle cx="361.2" cy="418" r="1.6" fill="#c50a26"/>
<circle cx="381.3" cy="412.5" r="1.6" fill="#c50a26"/>
<circle cx="401.3" cy="411" r="1.6" fill="#c50a26"/>
<circle cx="421.9" cy="407" r="1.6" fill="#c50a26"/>
<circle cx="442.3" cy="408" r="1.6" fill="#c50a26"/>
<circle cx="461.9" cy="387.7" r="1.6" fill="#c50a26"/>
<circle cx="482.4" cy="386.2" r="1.6" fill="#c50a26"/>
<circle cx="502.7" cy="392" r="1.6" fill="#c50a26"/>
<polyline points="320.8,413.4 340.9,417.6 361.2,418 381.3,412 401.3,407.9 421.9,410.1 442.3,397 461.9,377.2 482.4,350.8 502.7,366.2" fill="none" stroke="#1b5186" stroke-width="1.6" stroke-linejoin="round"/>
<circle cx="320.8" cy="413.4" r="1.6" fill="#1b5186"/>
<circle cx="340.9" cy="417.6" r="1.6" fill="#1b5186"/>
<circle cx="361.2" cy="418" r="1.6" fill="#1b5186"/>
<circle cx="381.3" cy="412" r="1.6" fill="#1b5186"/>
<circle cx="401.3" cy="407.9" r="1.6" fill="#1b5186"/>
<circle cx="421.9" cy="410.1" r="1.6" fill="#1b5186"/>
<circle cx="442.3" cy="397" r="1.6" fill="#1b5186"/>
<circle cx="461.9" cy="377.2" r="1.6" fill="#1b5186"/>
<circle cx="482.4" cy="350.8" r="1.6" fill="#1b5186"/>
<circle cx="502.7" cy="366.2" r="1.6" fill="#1b5186"/>
<g transform="translate(279.1,386.3) rotate(-90)" stroke="#1a1a1a" stroke-width="0.45" font-size="13.4"><text transform="translate(2.85,0) scale(0.69,1)" text-anchor="middle">C</text><text transform="translate(8.1,0) scale(0.62,1)" text-anchor="middle">e</text><text transform="translate(11.1,0) scale(0.75,1)" text-anchor="middle">l</text><text transform="translate(13.4,0) scale(0.75,1)" text-anchor="middle">l</text><text transform="translate(16.4,0) scale(0.6,1)" text-anchor="middle">s</text><text transform="translate(20.4,0) scale(1.15,1)" text-anchor="middle">/</text><text transform="translate(25.4,0) scale(0.72,1)" text-anchor="middle">µ</text><text transform="translate(31.3,0) scale(0.85,1)" text-anchor="middle">L</text></g>
<text x="309.6" y="432.1" font-size="9.7">pre</text>
<text x="308.3" y="443.6" font-size="9.7">BMT</text>
<text x="331.1" y="432.1" font-size="9.7">pre</text>
<text x="332.1" y="443.6" font-size="9.7">VAX</text>
<text x="359.3" y="432.1" font-size="9.7" text-anchor="middle">VAX1</text>
<text x="380.4" y="432.1" font-size="9.7" text-anchor="middle">1m</text>
<text x="399.4" y="432.1" font-size="9.7" text-anchor="middle">2m</text>
<text x="419.6" y="432.1" font-size="9.7" text-anchor="middle">3m</text>
<text x="441.5" y="432.1" font-size="9.7" text-anchor="middle">5m</text>
<text x="461.6" y="432.1" font-size="9.7" text-anchor="middle">9m</text>
<text x="480.6" y="432.1" font-size="9.7" text-anchor="middle">1y</text>
<text x="497.9" y="432.1" font-size="9.7" text-anchor="middle">&gt;1y</text>
<path d="M374.9 435.7H505" stroke="#000" stroke-width="1.2"/>
<text x="416.7" y="446.3" font-size="9.7">post VAX1</text>
<path d="M57.1 494.3V596.7H261" fill="none" stroke="#000" stroke-width="1.5"/>
<path d="M52.9 499.8H57.1" stroke="#000" stroke-width="1.2"/>
<text x="49.5" y="503.6" font-size="10.6" text-anchor="end" letter-spacing="0.35">350</text>
<path d="M52.9 514.5H57.1" stroke="#000" stroke-width="1.2"/>
<text x="49.5" y="518.3" font-size="10.6" text-anchor="end" letter-spacing="0.35">300</text>
<path d="M52.9 528.3H57.1" stroke="#000" stroke-width="1.2"/>
<text x="49.5" y="532.1" font-size="10.6" text-anchor="end" letter-spacing="0.35">250</text>
<path d="M52.9 541.9H57.1" stroke="#000" stroke-width="1.2"/>
<text x="49.5" y="545.7" font-size="10.6" text-anchor="end" letter-spacing="0.35">200</text>
<path d="M52.9 556H57.1" stroke="#000" stroke-width="1.2"/>
<text x="49.5" y="559.8" font-size="10.6" text-anchor="end" letter-spacing="0.35">150</text>
<path d="M52.9 569.7H57.1" stroke="#000" stroke-width="1.2"/>
<text x="49.5" y="573.5" font-size="10.6" text-anchor="end" letter-spacing="0.35">100</text>
<path d="M52.9 583.7H57.1" stroke="#000" stroke-width="1.2"/>
<text x="49.5" y="587.5" font-size="10.6" text-anchor="end" letter-spacing="0.35">50</text>
<path d="M52.9 596.6H57.1" stroke="#000" stroke-width="1.2"/>
<text x="49.5" y="600.4" font-size="10.6" text-anchor="end" letter-spacing="0.35">0</text>
<text x="104.6" y="486.4" font-size="12.4" textLength="102" lengthAdjust="spacingAndGlyphs">Absolute CD56+3</text>
<path d="M207 482.6H213.8" stroke="#777" stroke-width="1"/>
<path d="M72.1 563.3V580M69.6 563.3H74.6M69.6 580H74.6M92.6 523.3V570M90.1 523.3H95.1M90.1 570H95.1M113.1 520.3V562.1M110.6 520.3H115.6M110.6 562.1H115.6M133.1 523.6V575.6M130.6 523.6H135.6M130.6 575.6H135.6M153.3 545.7V579M150.8 545.7H155.8M150.8 579H155.8M173.4 547.4V578.5M170.9 547.4H175.9M170.9 578.5H175.9M194 537.9V575M191.5 537.9H196.5M191.5 575H196.5M214.2 542.1V570M211.7 542.1H216.7M211.7 570H216.7M233.7 526.4V563.4M231.2 526.4H236.2M231.2 563.4H236.2M254.7 524.4V564.6M252.2 524.4H257.2M252.2 564.6H257.2" fill="none" stroke="#d0304e" stroke-width="1.2"/>
<path d="M72.1 557.2V583.9M69.6 557.2H74.6M69.6 583.9H74.6M92.6 524.4V570.8M90.1 524.4H95.1M90.1 570.8H95.1M113.1 497.7V568.7M110.6 497.7H115.6M110.6 568.7H115.6M133.1 533.8V569.1M130.6 533.8H135.6M130.6 569.1H135.6M153.3 526.1V581.3M150.8 526.1H155.8M150.8 581.3H155.8M173.4 526.9V576.1M170.9 526.9H175.9M170.9 576.1H175.9M194 542.8V577.2M191.5 542.8H196.5M191.5 577.2H196.5M214.2 545.7V578.9M211.7 545.7H216.7M211.7 578.9H216.7M233.7 522.8V560.8M231.2 522.8H236.2M231.2 560.8H236.2M254.7 533.4V548.2M252.2 533.4H257.2M252.2 548.2H257.2" fill="none" stroke="#fff" stroke-width="1.35"/>
<path d="M72.1 557.2V583.9M69.6 557.2H74.6M69.6 583.9H74.6M92.6 524.4V570.8M90.1 524.4H95.1M90.1 570.8H95.1M113.1 497.7V568.7M110.6 497.7H115.6M110.6 568.7H115.6M133.1 533.8V569.1M130.6 533.8H135.6M130.6 569.1H135.6M153.3 526.1V581.3M150.8 526.1H155.8M150.8 581.3H155.8M173.4 526.9V576.1M170.9 526.9H175.9M170.9 576.1H175.9M194 542.8V577.2M191.5 542.8H196.5M191.5 577.2H196.5M214.2 545.7V578.9M211.7 545.7H216.7M211.7 578.9H216.7M233.7 522.8V560.8M231.2 522.8H236.2M231.2 560.8H236.2M254.7 533.4V548.2M252.2 533.4H257.2M252.2 548.2H257.2" fill="none" stroke="#3d6fa0" stroke-width="1.35"/>
<polyline points="72.1,576.9 92.6,558 113.1,549.8 133.1,564.3 153.3,566.2 173.4,561.8 194,564.6 214.2,560.5 233.7,552.3 254.7,541.1" fill="none" stroke="#c50a26" stroke-width="1.6" stroke-linejoin="round"/>
<circle cx="72.1" cy="576.9" r="1.6" fill="#c50a26"/>
<circle cx="92.6" cy="558" r="1.6" fill="#c50a26"/>
<circle cx="113.1" cy="549.8" r="1.6" fill="#c50a26"/>
<circle cx="133.1" cy="564.3" r="1.6" fill="#c50a26"/>
<circle cx="153.3" cy="566.2" r="1.6" fill="#c50a26"/>
<circle cx="173.4" cy="561.8" r="1.6" fill="#c50a26"/>
<circle cx="194" cy="564.6" r="1.6" fill="#c50a26"/>
<circle cx="214.2" cy="560.5" r="1.6" fill="#c50a26"/>
<circle cx="233.7" cy="552.3" r="1.6" fill="#c50a26"/>
<circle cx="254.7" cy="541.1" r="1.6" fill="#c50a26"/>
<polyline points="72.1,576.9 92.6,547.7 113.1,549.8 133.1,554.1 153.3,568.7 173.4,560.2 194,564.6 214.2,560.5 233.7,542.5 254.7,538.9" fill="none" stroke="#1b5186" stroke-width="1.6" stroke-linejoin="round"/>
<circle cx="72.1" cy="576.9" r="1.6" fill="#1b5186"/>
<circle cx="92.6" cy="547.7" r="1.6" fill="#1b5186"/>
<circle cx="113.1" cy="549.8" r="1.6" fill="#1b5186"/>
<circle cx="133.1" cy="554.1" r="1.6" fill="#1b5186"/>
<circle cx="153.3" cy="568.7" r="1.6" fill="#1b5186"/>
<circle cx="173.4" cy="560.2" r="1.6" fill="#1b5186"/>
<circle cx="194" cy="564.6" r="1.6" fill="#1b5186"/>
<circle cx="214.2" cy="560.5" r="1.6" fill="#1b5186"/>
<circle cx="233.7" cy="542.5" r="1.6" fill="#1b5186"/>
<circle cx="254.7" cy="538.9" r="1.6" fill="#1b5186"/>
<g transform="translate(22.1,562.1) rotate(-90)" stroke="#1a1a1a" stroke-width="0.45" font-size="13.4"><text transform="translate(2.79,0) scale(0.69,1)" text-anchor="middle">C</text><text transform="translate(7.93,0) scale(0.62,1)" text-anchor="middle">e</text><text transform="translate(10.87,0) scale(0.75,1)" text-anchor="middle">l</text><text transform="translate(13.12,0) scale(0.75,1)" text-anchor="middle">l</text><text transform="translate(16.06,0) scale(0.6,1)" text-anchor="middle">s</text><text transform="translate(19.98,0) scale(1.15,1)" text-anchor="middle">/</text><text transform="translate(24.88,0) scale(0.72,1)" text-anchor="middle">µ</text><text transform="translate(30.65,0) scale(0.85,1)" text-anchor="middle">L</text></g>
<text x="62.1" y="608.6" font-size="9.7">pre</text>
<text x="61.6" y="619.9" font-size="9.7">BMT</text>
<text x="85.6" y="608.6" font-size="9.7">pre</text>
<text x="85.9" y="619.9" font-size="9.7">VAX</text>
<text x="113.2" y="608.6" font-size="9.7" text-anchor="middle">VAX1</text>
<text x="133.2" y="608.6" font-size="9.7" text-anchor="middle">1m</text>
<text x="152.4" y="608.6" font-size="9.7" text-anchor="middle">2m</text>
<text x="172.5" y="608.6" font-size="9.7" text-anchor="middle">3m</text>
<text x="194.5" y="608.6" font-size="9.7" text-anchor="middle">5m</text>
<text x="214.3" y="608.6" font-size="9.7" text-anchor="middle">9m</text>
<text x="233.8" y="608.6" font-size="9.7" text-anchor="middle">1y</text>
<text x="250.6" y="608.6" font-size="9.7" text-anchor="middle">&gt;1y</text>
<path d="M128.1 612H258" stroke="#000" stroke-width="1.2"/>
<text x="169.7" y="621.8" font-size="9.7">post VAX1</text>
<path d="M313.7 493.75V595.8H506.8" fill="none" stroke="#000" stroke-width="1.5"/>
<path d="M309.5 500H313.7" stroke="#000" stroke-width="1.2"/>
<text x="306.1" y="503.8" font-size="10.6" text-anchor="end" letter-spacing="0.35">350</text>
<path d="M309.5 513.75H313.7" stroke="#000" stroke-width="1.2"/>
<text x="306.1" y="517.55" font-size="10.6" text-anchor="end" letter-spacing="0.35">300</text>
<path d="M309.5 527.5H313.7" stroke="#000" stroke-width="1.2"/>
<text x="306.1" y="531.3" font-size="10.6" text-anchor="end" letter-spacing="0.35">250</text>
<path d="M309.5 541.25H313.7" stroke="#000" stroke-width="1.2"/>
<text x="306.1" y="545.05" font-size="10.6" text-anchor="end" letter-spacing="0.35">200</text>
<path d="M309.5 554.6H313.7" stroke="#000" stroke-width="1.2"/>
<text x="306.1" y="558.4" font-size="10.6" text-anchor="end" letter-spacing="0.35">150</text>
<path d="M309.5 568.3H313.7" stroke="#000" stroke-width="1.2"/>
<text x="306.1" y="572.1" font-size="10.6" text-anchor="end" letter-spacing="0.35">100</text>
<path d="M309.5 582H313.7" stroke="#000" stroke-width="1.2"/>
<text x="306.1" y="585.8" font-size="10.6" text-anchor="end" letter-spacing="0.35">50</text>
<path d="M309.5 596H313.7" stroke="#000" stroke-width="1.2"/>
<text x="306.1" y="599.8" font-size="10.6" text-anchor="end" letter-spacing="0.35">0</text>
<text x="337.4" y="486.4" font-size="12.4" textLength="108" lengthAdjust="spacingAndGlyphs">HLA-DR+LINEAGE</text>
<path d="M445.6 482.6H452.5" stroke="#777" stroke-width="1"/>
<text x="456.6" y="486.4" font-size="12.4" textLength="26" lengthAdjust="spacingAndGlyphs">(DC)</text>
<path d="M322.3 564.6V577.2M319.8 564.6H324.8M319.8 577.2H324.8M342 538.7V578M339.5 538.7H344.5M339.5 578H344.5M362.8 527.7V570.3M360.3 527.7H365.3M360.3 570.3H365.3M383 542.3V585.5M380.5 542.3H385.5M380.5 585.5H385.5M403.3 554.8V579M400.8 554.8H405.8M400.8 579H405.8M423 534.3V568.4M420.5 534.3H425.5M420.5 568.4H425.5M443.5 551V583.4M441 551H446M441 583.4H446M464 555.9V583M461.5 555.9H466.5M461.5 583H466.5M484.2 534.6V574.4M481.7 534.6H486.7M481.7 574.4H486.7M504.2 570.7V585.4M501.7 585.4H506.7" fill="none" stroke="#d0304e" stroke-width="1.2"/>
<path d="M322.3 532.1V584.6M319.8 532.1H324.8M319.8 584.6H324.8M342 521.6V567M339.5 521.6H344.5M339.5 567H344.5M362.8 522.3V566.7M360.3 522.3H365.3M360.3 566.7H365.3M383 530.7V577.4M380.5 530.7H385.5M380.5 577.4H385.5M403.3 543.8V574.8M400.8 543.8H405.8M400.8 574.8H405.8M423 543V582.3M420.5 543H425.5M420.5 582.3H425.5M443.5 519.5V575.2M441 519.5H446M441 575.2H446M464 548.5V577M461.5 548.5H466.5M461.5 577H466.5M484.2 551V571.1M481.7 551H486.7M481.7 571.1H486.7M504.2 502.6V579M501.7 502.6H506.7M501.7 579H506.7" fill="none" stroke="#fff" stroke-width="1.35"/>
<path d="M322.3 532.1V584.6M319.8 532.1H324.8M319.8 584.6H324.8M342 521.6V567M339.5 521.6H344.5M339.5 567H344.5M362.8 522.3V566.7M360.3 522.3H365.3M360.3 566.7H365.3M383 530.7V577.4M380.5 530.7H385.5M380.5 577.4H385.5M403.3 543.8V574.8M400.8 543.8H405.8M400.8 574.8H405.8M423 543V582.3M420.5 543H425.5M420.5 582.3H425.5M443.5 519.5V575.2M441 519.5H446M441 575.2H446M464 548.5V577M461.5 548.5H466.5M461.5 577H466.5M484.2 551V571.1M481.7 551H486.7M481.7 571.1H486.7M504.2 502.6V579M501.7 502.6H506.7M501.7 579H506.7" fill="none" stroke="#3d6fa0" stroke-width="1.35"/>
<polyline points="322.3,575.2 342,567.5 362.8,553.1 383,561.7 403.3,571.5 423,556.4 443.5,571.5 464,577.7 484.2,564.6 504.2,570.7" fill="none" stroke="#c50a26" stroke-width="1.6" stroke-linejoin="round"/>
<circle cx="322.3" cy="575.2" r="1.6" fill="#c50a26"/>
<circle cx="342" cy="567.5" r="1.6" fill="#c50a26"/>
<circle cx="362.8" cy="553.1" r="1.6" fill="#c50a26"/>
<circle cx="383" cy="561.7" r="1.6" fill="#c50a26"/>
<circle cx="403.3" cy="571.5" r="1.6" fill="#c50a26"/>
<circle cx="423" cy="556.4" r="1.6" fill="#c50a26"/>
<circle cx="443.5" cy="571.5" r="1.6" fill="#c50a26"/>
<circle cx="464" cy="577.7" r="1.6" fill="#c50a26"/>
<circle cx="484.2" cy="564.6" r="1.6" fill="#c50a26"/>
<circle cx="504.2" cy="570.7" r="1.6" fill="#c50a26"/>
<polyline points="322.3,567.9 342,551.1 362.8,551.8 383,559.2 403.3,561.8 423,574.4 443.5,566.4 464,564.1 484.2,557.7 504.2,518.7" fill="none" stroke="#1b5186" stroke-width="1.6" stroke-linejoin="round"/>
<circle cx="322.3" cy="567.9" r="1.6" fill="#1b5186"/>
<circle cx="342" cy="551.1" r="1.6" fill="#1b5186"/>
<circle cx="362.8" cy="551.8" r="1.6" fill="#1b5186"/>
<circle cx="383" cy="559.2" r="1.6" fill="#1b5186"/>
<circle cx="403.3" cy="561.8" r="1.6" fill="#1b5186"/>
<circle cx="423" cy="574.4" r="1.6" fill="#1b5186"/>
<circle cx="443.5" cy="566.4" r="1.6" fill="#1b5186"/>
<circle cx="464" cy="564.1" r="1.6" fill="#1b5186"/>
<circle cx="484.2" cy="557.7" r="1.6" fill="#1b5186"/>
<circle cx="504.2" cy="518.7" r="1.6" fill="#1b5186"/>
<g transform="translate(279.1,561.3) rotate(-90)" stroke="#1a1a1a" stroke-width="0.45" font-size="13.4"><text transform="translate(2.85,0) scale(0.69,1)" text-anchor="middle">C</text><text transform="translate(8.1,0) scale(0.62,1)" text-anchor="middle">e</text><text transform="translate(11.1,0) scale(0.75,1)" text-anchor="middle">l</text><text transform="translate(13.4,0) scale(0.75,1)" text-anchor="middle">l</text><text transform="translate(16.4,0) scale(0.6,1)" text-anchor="middle">s</text><text transform="translate(20.4,0) scale(1.15,1)" text-anchor="middle">/</text><text transform="translate(25.4,0) scale(0.72,1)" text-anchor="middle">µ</text><text transform="translate(31.3,0) scale(0.85,1)" text-anchor="middle">L</text></g>
<text x="311.5" y="608.1" font-size="9.7">pre</text>
<text x="311.4" y="619" font-size="9.7">BMT</text>
<text x="334.5" y="608.1" font-size="9.7">pre</text>
<text x="336.1" y="619" font-size="9.7">VAX</text>
<text x="364.3" y="608.1" font-size="9.7" text-anchor="middle">VAX1</text>
<text x="383.7" y="608.1" font-size="9.7" text-anchor="middle">1m</text>
<text x="402.75" y="608.1" font-size="9.7" text-anchor="middle">2m</text>
<text x="423.1" y="608.1" font-size="9.7" text-anchor="middle">3m</text>
<text x="445.4" y="608.1" font-size="9.7" text-anchor="middle">5m</text>
<text x="465.25" y="608.1" font-size="9.7" text-anchor="middle">9m</text>
<text x="484.1" y="608.1" font-size="9.7" text-anchor="middle">1y</text>
<text x="501.25" y="608.1" font-size="9.7" text-anchor="middle">&gt;1y</text>
<path d="M378.4 611.3H509.25" stroke="#000" stroke-width="1.2"/>
<text x="420.15" y="621.3" font-size="9.7">post VAX1</text>
<rect x="1.5" y="1.5" width="517" height="668" fill="none" stroke="#808080" stroke-width="1"/>
<rect x="0.5" y="0.5" width="519" height="670" fill="none" stroke="#000" stroke-width="1"/>
<path d="M206 658.8H218.5" stroke="#c50a26" stroke-width="1.7"/><circle cx="212.2" cy="658.8" r="1.6" fill="#c50a26"/>
<text x="221.8" y="662.5" font-size="10.3">GVAX</text>
<path d="M266.5 658.7H278.8" stroke="#1b5186" stroke-width="1.7"/><circle cx="272.5" cy="658.7" r="1.6" fill="#1b5186"/>
<text x="282.4" y="662.5" font-size="10.2" textLength="35.6" lengthAdjust="spacingAndGlyphs">Placebo</text>
</svg></div></body></html>
